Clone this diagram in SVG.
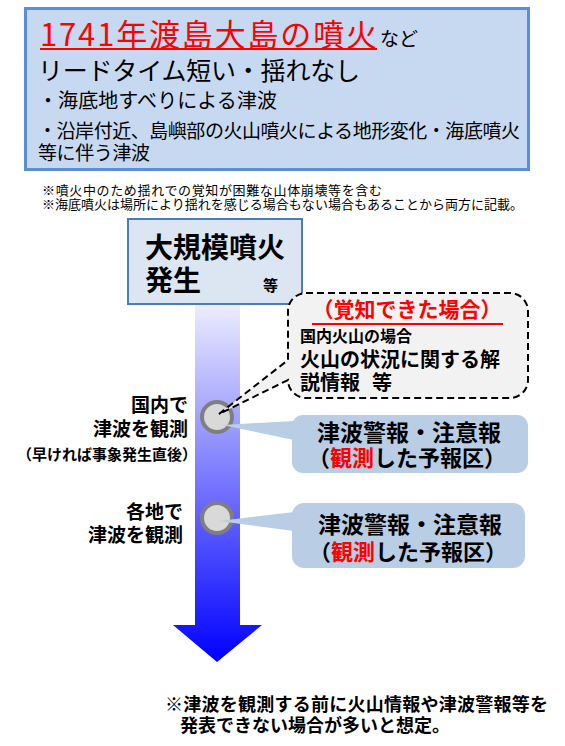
<svg xmlns="http://www.w3.org/2000/svg" width="565" height="746" viewBox="0 0 565 746">
<style>
text{font-family:"Noto Sans CJK JP","Noto Sans CJK SC",sans-serif;fill:#000}
.b{font-weight:bold}
.red{fill:#FF0000}
.blue{fill:#B9CDE5}
.circ{fill:#D9D9D9;stroke:#7F7F7F;stroke-width:4}
</style>
<defs>
<linearGradient id="arrowGrad" gradientUnits="userSpaceOnUse" x1="0" y1="305" x2="0" y2="662">
<stop offset="0" stop-color="#ECECFF"/>
<stop offset="1" stop-color="#0000FF"/>
</linearGradient>
</defs>
<rect width="565" height="746" fill="#FFFFFF"/>

<g id="header">
<rect x="25.5" y="8.5" width="503" height="161" fill="#C6D9F0" stroke="#5B8ED6" stroke-width="3"/>
<text x="40" y="46" font-size="31" class="red" textLength="337">1741年渡島大島の噴火</text>
<line x1="40" y1="49" x2="377" y2="49" stroke="#FF0000" stroke-width="2"/>
<text x="380" y="46" font-size="19">など</text>
<text x="38" y="80" font-size="25" textLength="322">リードタイム短い・揺れなし</text>
<text x="38" y="108" font-size="20" textLength="239">・海底地すべりによる津波</text>
<text x="38" y="138" font-size="19" textLength="482">・沿岸付近、島嶼部の火山噴火による地形変化・海底噴火</text>
<text x="38" y="160" font-size="19" textLength="112">等に伴う津波</text>
</g>

<g id="notes">
<text x="42" y="195" font-size="13" textLength="340">※噴火中のため揺れでの覚知が困難な山体崩壊等を含む</text>
<text x="42" y="209" font-size="13" textLength="481">※海底噴火は場所により揺れを感じる場合もない場合もあることから両方に記載。</text>
</g>

<g id="timeline">
<path d="M195,304 H240 V625 H262 L217,662 L173,625 H195 Z" fill="url(#arrowGrad)"/>
</g>

<g id="eruption">
<rect x="128" y="219" width="174" height="85" fill="#DCE6F2" stroke="#4A7EBB" stroke-width="2"/>
<text x="145" y="258" font-size="28" class="b">大規模噴火</text>
<text x="145" y="291" font-size="28" class="b">発生</text>
<text x="263" y="291" font-size="15" class="b">等</text>
</g>

<g id="event1">
<circle cx="217" cy="417" r="15" class="circ"/>
<text x="188" y="412" font-size="19" class="b" text-anchor="end">国内で</text>
<text x="188" y="436" font-size="19" class="b" text-anchor="end">津波を観測</text>
<text x="197" y="460" font-size="15" class="b" text-anchor="end">（早ければ事象発生直後）</text>
</g>

<g id="event2">
<circle cx="217" cy="518" r="15" class="circ"/>
<text x="183" y="519" font-size="19" class="b" text-anchor="end">各地で</text>
<text x="183" y="542" font-size="19" class="b" text-anchor="end">津波を観測</text>
</g>

<g id="connectors">
<path d="M306,293 H510 A18,18 0 0 1 528,311 V380 A18,18 0 0 1 510,398 H306 A18,18 0 0 1 288,380 L219,414 L288,360 V311 A18,18 0 0 1 306,293 Z" fill="#F2F2F2" stroke="#000" stroke-width="2" stroke-dasharray="7,4"/>
<polygon points="222,425 294,421 294,440" class="blue"/>
<polygon points="219,521 294,512 294,531" class="blue"/>
</g>

<g id="volcano-info">
<text x="407" y="317" font-size="21" class="b red" text-anchor="middle">（覚知できた場合）</text>
<line x1="312" y1="324" x2="503" y2="324" stroke="#FF0000" stroke-width="2"/>
<text x="300" y="342" font-size="16" class="b">国内火山の場合</text>
<text x="300" y="367" font-size="20" class="b">火山の状況に関する解</text>
<text x="300" y="390" font-size="20" class="b">説情報<tspan x="372">等</tspan></text>
</g>

<g id="warning1">
<rect x="292" y="415" width="236" height="58" rx="11" class="blue"/>
<text x="409" y="441" font-size="23" class="b" text-anchor="middle">津波警報・注意報</text>
<text x="407" y="466" font-size="22" class="b" text-anchor="middle">（<tspan class="red">観測</tspan>した予報区）</text>
</g>

<g id="warning2">
<rect x="292" y="503" width="233" height="65" rx="12" class="blue"/>
<text x="410" y="533" font-size="23" class="b" text-anchor="middle">津波警報・注意報</text>
<text x="408" y="560" font-size="22" class="b" text-anchor="middle">（<tspan class="red">観測</tspan>した予報区）</text>
</g>

<g id="footnote">
<text x="165" y="711" font-size="18" class="b" textLength="383">※津波を観測する前に火山情報や津波警報等を</text>
<text x="180" y="732" font-size="18" class="b">発表できない場合が多いと想定。</text>
</g>
</svg>
